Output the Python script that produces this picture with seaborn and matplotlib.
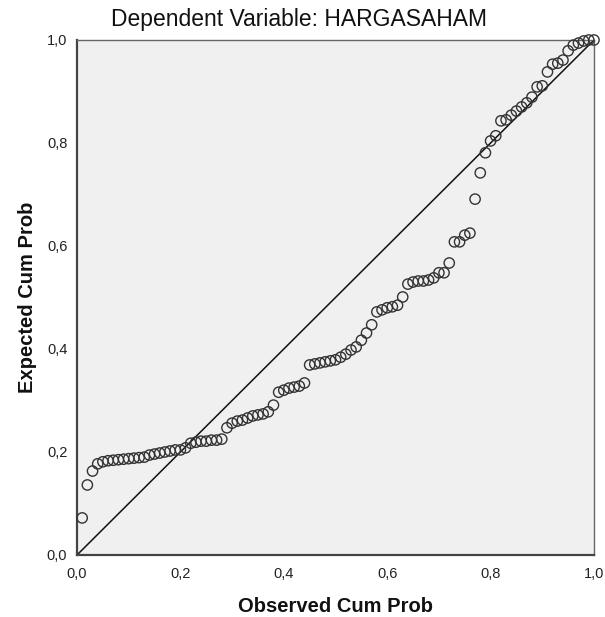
import numpy as np
import pandas as pd
import matplotlib
matplotlib.use("Agg")
import matplotlib.pyplot as plt
import seaborn as sns

# Observed vs expected cumulative probability
observed = [
    0.01, 0.02, 0.03, 0.04, 0.05, 0.06, 0.07, 0.08, 0.09, 0.10,
    0.11, 0.12, 0.13, 0.14, 0.15, 0.16, 0.17, 0.18, 0.19, 0.20,
    0.21, 0.22, 0.23, 0.24, 0.25, 0.26, 0.27, 0.28, 0.29, 0.30,
    0.31, 0.32, 0.33, 0.34, 0.35, 0.36, 0.37, 0.38, 0.39, 0.40,
    0.41, 0.42, 0.43, 0.44, 0.45, 0.46, 0.47, 0.48, 0.49, 0.50,
    0.51, 0.52, 0.53, 0.54, 0.55, 0.56, 0.57, 0.58, 0.59, 0.60,
    0.61, 0.62, 0.63, 0.64, 0.65, 0.66, 0.67, 0.68, 0.69, 0.70,
    0.71, 0.72, 0.73, 0.74, 0.75, 0.76, 0.77, 0.78, 0.79, 0.80,
    0.81, 0.82, 0.83, 0.84, 0.85, 0.86, 0.87, 0.88, 0.89, 0.90,
    0.91, 0.92, 0.93, 0.94, 0.95, 0.96, 0.97, 0.98, 0.99, 1.00,
]
expected = [
    0.072, 0.136, 0.163, 0.177, 0.181, 0.183, 0.184, 0.185, 0.186, 0.187,
    0.188, 0.189, 0.190, 0.194, 0.196, 0.198, 0.200, 0.202, 0.204, 0.204,
    0.208, 0.217, 0.219, 0.221, 0.221, 0.223, 0.223, 0.225, 0.247, 0.256,
    0.260, 0.262, 0.266, 0.270, 0.272, 0.274, 0.278, 0.291, 0.316, 0.320,
    0.324, 0.326, 0.328, 0.334, 0.369, 0.371, 0.373, 0.375, 0.377, 0.379,
    0.384, 0.390, 0.398, 0.404, 0.417, 0.431, 0.447, 0.472, 0.476, 0.480,
    0.482, 0.485, 0.501, 0.526, 0.530, 0.532, 0.532, 0.534, 0.538, 0.548,
    0.548, 0.567, 0.608, 0.608, 0.621, 0.625, 0.691, 0.742, 0.781, 0.804,
    0.814, 0.843, 0.845, 0.854, 0.862, 0.870, 0.878, 0.889, 0.909, 0.911,
    0.938, 0.953, 0.955, 0.961, 0.979, 0.990, 0.994, 0.998, 1.000, 1.000,
]
ticks = [0.0, 0.2, 0.4, 0.6, 0.8, 1.0]
tick_labels = ["0,0", "0,2", "0,4", "0,6", "0,8", "1,0"]

df = pd.DataFrame({"Observed": observed, "Expected": expected})

sns.set_style("white")
plt.rcParams["font.family"] = ["Liberation Sans", "DejaVu Sans"]

fig = plt.figure(figsize=(6.05, 6.17), dpi=100)
ax = fig.add_axes([0.1273, 0.1005, 0.8545, 0.8347])
ax.set_facecolor("#f0f0f0")

# reference diagonal
ax.plot([0, 1], [0, 1], color="#111111", linewidth=1.1, zorder=2)

sns.scatterplot(data=df, x="Observed", y="Expected", ax=ax, s=55,
                facecolor="none", edgecolor="#333333", linewidth=1.0,
                zorder=3, clip_on=False)

ax.set_xlim(0, 1)
ax.set_ylim(0, 1)
ax.set_xticks(ticks)
ax.set_xticklabels(tick_labels)
ax.set_yticks(ticks)
ax.set_yticklabels(tick_labels)
ax.tick_params(axis="both", direction="out", length=6, width=1.3,
               color="#444444", labelsize=10.5, labelcolor="#222222", pad=1)
ax.tick_params(axis="x", pad=3)
ax.tick_params(top=False, right=False)
for side, sp in ax.spines.items():
    sp.set_color("#444444" if side in ("left", "bottom") else "#666666")
    sp.set_linewidth(1.6 if side in ("left", "bottom") else 1.0)

ax.set_xlabel("Observed Cum Prob", fontsize=14.5, fontweight="bold",
              color="#111111", labelpad=11)
ax.set_ylabel("Expected Cum Prob", fontsize=14.5, fontweight="bold",
              color="#111111", labelpad=7)
fig.text(0.494, 0.968, "Dependent Variable: HARGASAHAM", fontsize=16.5,
         color="#111111", ha="center", va="center")

fig.savefig("out.png", dpi=100, facecolor="white")
